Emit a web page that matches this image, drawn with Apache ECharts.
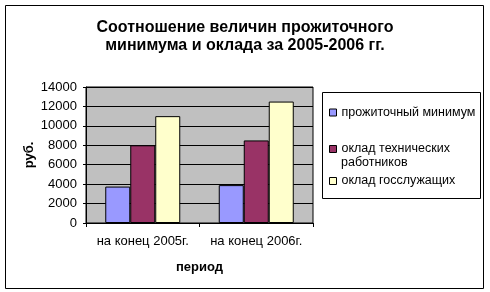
<!DOCTYPE html>
<html><head><meta charset="utf-8">
<script src="https://cdn.jsdelivr.net/npm/echarts@6/dist/echarts.min.js"></script>
<style>html,body{margin:0;padding:0;background:#fff}#c{width:490px;height:292px}</style>
</head><body><div id="c"></div>
<script>
const categories = ['на конец 2005г.', 'на конец 2006г.'];
const seriesNames = ['прожиточный минимум', 'оклад технических работников', 'оклад госслужащих'];
const legendLines = [['прожиточный минимум'], ['оклад технических', 'работников'], ['оклад госслужащих']];
const livingWage = [3750, 3900];
const techSalary = [8000, 8500];
const civilSalary = [11000, 12500];
const yTicks = [0, 2000, 4000, 6000, 8000, 10000, 12000, 14000];
const colors = ['#9999ff', '#993366', '#ffffcc'];
const values = [livingWage, techSalary, civilSalary];
const font = 'Liberation Sans, Arial, sans-serif';

const chart = echarts.init(document.getElementById('c'), null, {renderer: 'canvas'});
const legendCenters = [112.5, 149, 181];
chart.setOption({
  animation: false,
  title: {
    text: 'Соотношение величин прожиточного\nминимума и оклада за 2005-2006 гг.',
    left: 'center', top: 14,
    textStyle: {fontFamily: font, fontSize: 16, fontWeight: 'bold', color: '#000', lineHeight: 18}
  },
  graphic: [
    {type: 'rect', shape: {x: 5.5, y: 5.5, width: 478, height: 283}, style: {fill: null, stroke: '#000', lineWidth: 1}, z: -10},
    {type: 'rect', shape: {x: 322.5, y: 92.5, width: 158, height: 106}, style: {fill: '#fff', stroke: '#000', lineWidth: 1}, z: 0},
    {type: 'text', left: 341, top: 156, style: {text: legendLines[1][1], font: '12.5px ' + font, fill: '#000'}, z: 5}
  ],
  legend: seriesNames.map((n, i) => ({
    data: [n], left: 329, top: legendCenters[i] - 7, orient: 'vertical',
    itemWidth: 7, itemHeight: 7, itemGap: 0, padding: 0,
    icon: 'rect',
    formatter: () => legendLines[i][0],
    itemStyle: {borderColor: '#000', borderWidth: 1},
    textStyle: {fontFamily: font, fontSize: 12.5, color: '#000', lineHeight: 14},
    selectedMode: false, z: 5
  })),
  grid: {left: 86, top: 87, width: 227, height: 136, show: true, backgroundColor: '#c0c0c0', borderColor: '#000', borderWidth: 1},
  xAxis: {
    type: 'category', data: categories,
    name: 'период', nameLocation: 'middle', nameGap: 38,
    nameTextStyle: {fontFamily: font, fontSize: 13, fontWeight: 'bold', color: '#000'},
    axisLine: {lineStyle: {color: '#000'}},
    axisTick: {show: true, length: 4, lineStyle: {color: '#000'}},
    axisLabel: {fontFamily: font, fontSize: 13, color: '#000', margin: 12, interval: 0}
  },
  yAxis: {
    type: 'value', min: yTicks[0], max: yTicks[yTicks.length - 1], interval: 2000,
    name: 'руб.', nameLocation: 'middle', nameGap: 50, nameRotate: 90,
    nameTextStyle: {fontFamily: font, fontSize: 13, fontWeight: 'bold', color: '#000'},
    axisLine: {show: true, lineStyle: {color: '#000'}},
    axisTick: {show: true, length: 3, lineStyle: {color: '#000'}},
    axisLabel: {fontFamily: font, fontSize: 13, color: '#000', margin: 9, formatter: v => String(v)},
    splitLine: {show: true, lineStyle: {color: '#000', width: 1}}
  },
  series: seriesNames.map((n, i) => ({
    name: n, type: 'bar', data: values[i], barWidth: 25, barGap: '0%',
    itemStyle: {color: colors[i], borderColor: '#000', borderWidth: 1}
  }))
});
</script></body></html>
